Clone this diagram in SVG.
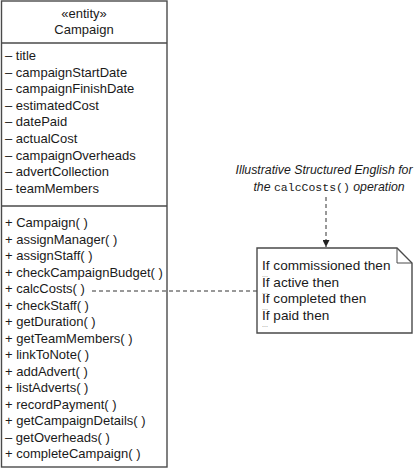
<svg xmlns="http://www.w3.org/2000/svg" width="414" height="470" viewBox="0 0 414 470">
<style>
text{font-family:"Liberation Sans","Open Sans",sans-serif;font-size:13px;fill:#1a1a1a}
.c{text-anchor:middle}
.it{font-style:italic;font-size:12.3px}
.mono{font-family:"Liberation Mono","DejaVu Sans Mono",monospace;font-size:11.5px;font-style:normal}
.n{font-size:13.6px}
.dots{font-size:7px;fill:#777}
.box{fill:#fff;stroke:#4a4a4a;stroke-width:1.4}
.div{stroke:#4a4a4a;stroke-width:1.4}
.dash{stroke:#333;stroke-width:1;stroke-dasharray:4 3;fill:none}
</style>
<defs>
<marker id="ah" viewBox="0 0 10 10" refX="10" refY="5" markerWidth="7" markerHeight="7" markerUnits="userSpaceOnUse" orient="auto">
<path d="M0,0 L10,5 L0,10 Z" fill="#222"/>
</marker>
</defs>
<rect width="414" height="470" fill="#fff"/>
<g id="connectors">
<line class="dash" x1="92" y1="291" x2="257" y2="291"/>
<line class="dash" x1="326" y1="197" x2="326" y2="247" marker-end="url(#ah)"/>
</g>
<g id="campaign">
<rect x="1.5" y="1" width="165.5" height="466" fill="none" stroke="#4a4a4a" stroke-width="1.4"/>
<line class="div" x1="1.5" y1="43" x2="167" y2="43"/>
<line class="div" x1="1.5" y1="206" x2="167" y2="206"/>
<text class="c" x="84" y="18">«entity»</text>
<text class="c" x="84" y="34">Campaign</text>
<text x="5" y="60">– title</text>
<text x="5" y="76.6">– campaignStartDate</text>
<text x="5" y="93.2">– campaignFinishDate</text>
<text x="5" y="109.8">– estimatedCost</text>
<text x="5" y="126.4">– datePaid</text>
<text x="5" y="143">– actualCost</text>
<text x="5" y="159.6">– campaignOverheads</text>
<text x="5" y="176.2">– advertCollection</text>
<text x="5" y="192.8">– teamMembers</text>
<text x="5" y="227">+ Campaign( )</text>
<text x="5" y="243.5">+ assignManager( )</text>
<text x="5" y="260">+ assignStaff( )</text>
<text x="5" y="276.5">+ checkCampaignBudget( )</text>
<text x="5" y="293">+ calcCosts( )</text>
<text x="5" y="309.5">+ checkStaff( )</text>
<text x="5" y="326">+ getDuration( )</text>
<text x="5" y="342.5">+ getTeamMembers( )</text>
<text x="5" y="359">+ linkToNote( )</text>
<text x="5" y="375.5">+ addAdvert( )</text>
<text x="5" y="392">+ listAdverts( )</text>
<text x="5" y="408.5">+ recordPayment( )</text>
<text x="5" y="425">+ getCampaignDetails( )</text>
<text x="5" y="441.5">– getOverheads( )</text>
<text x="5" y="458">+ completeCampaign( )</text>
</g>
<g id="caption">
<text class="c it" x="324" y="174">Illustrative Structured English for</text>
<text class="c it" x="329" y="191">the <tspan class="mono">calcCosts()</tspan> operation</text>
</g>
<g id="note">
<path class="box" d="M257,248 L397,248 L412,263 L412,333 L257,333 Z"/>
<path d="M397,248 L397,263 L412,263" fill="none" stroke="#4a4a4a" stroke-width="1"/>
<text class="n" x="262" y="270">If commissioned then</text>
<text class="dots" x="262" y="277">...</text>
<text class="n" x="262" y="286.5">If active then</text>
<text class="dots" x="262" y="293.5">...</text>
<text class="n" x="262" y="303">If completed then</text>
<text class="dots" x="262" y="310">...</text>
<text class="n" x="262" y="319.5">If paid then</text>
<text class="dots" x="262" y="326.5">...</text>
</g>
</svg>
